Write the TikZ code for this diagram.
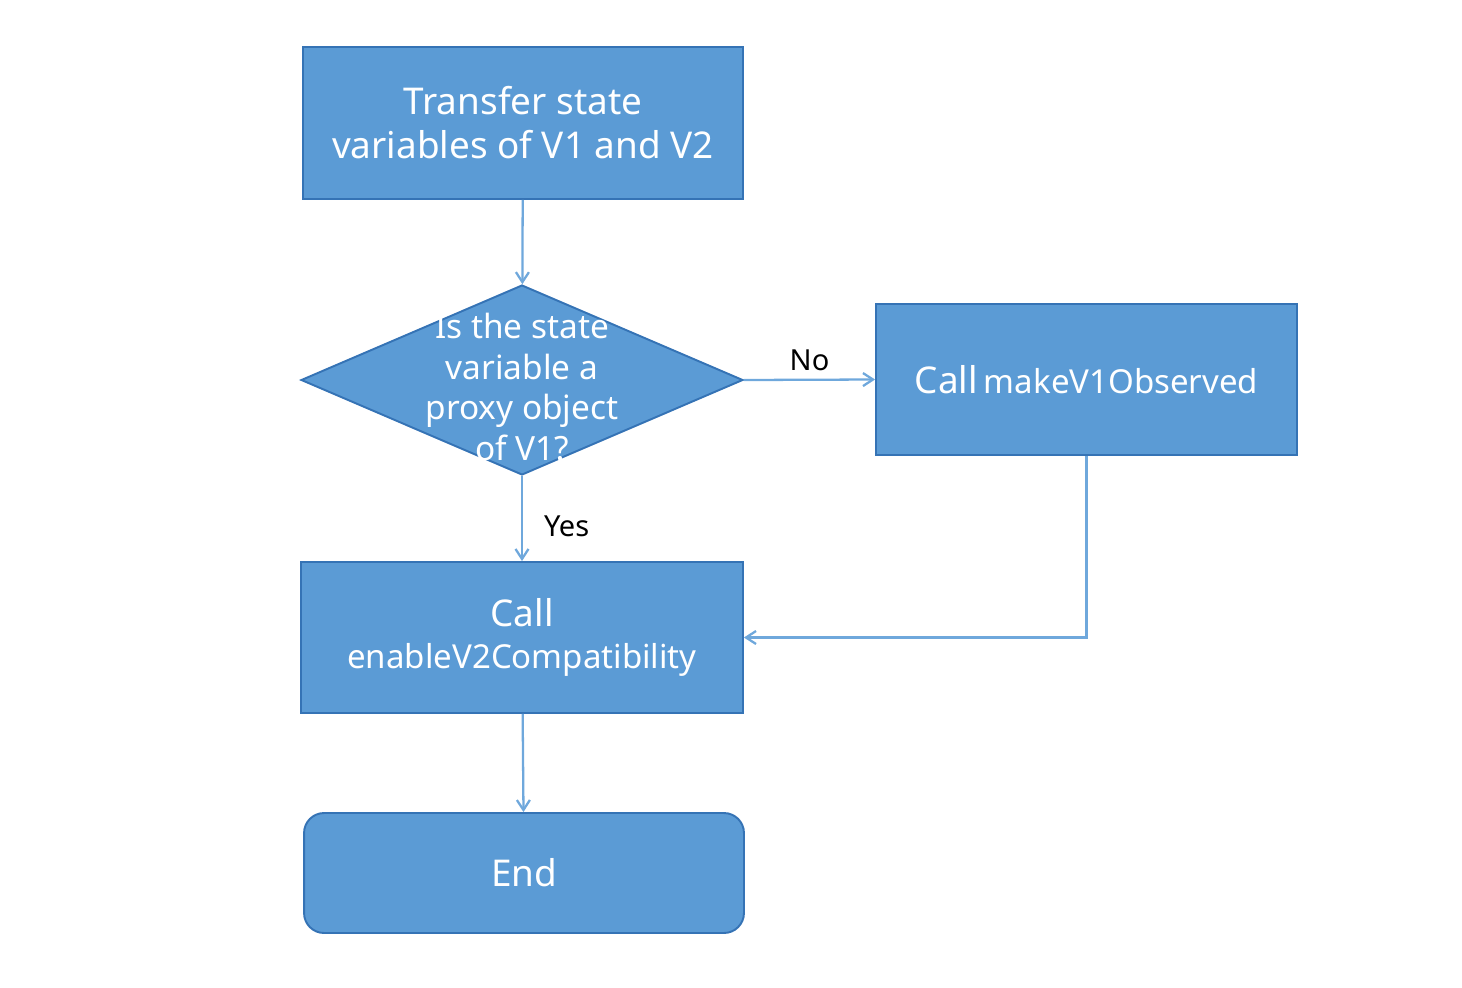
\documentclass[tikz,border=0pt]{standalone}
\usepackage{fontspec}
\setmainfont{Noto Sans}
\usetikzlibrary{arrows.meta,shapes.geometric}

\definecolor{boxfill}{HTML}{5B9BD5}
\definecolor{boxline}{HTML}{3573B5}
\definecolor{flowline}{HTML}{6FA8DC}

\tikzset{
    stepbox/.style={draw=boxline, line width=1.1pt, fill=boxfill, text=white, align=center,
        font=\fontsize{21}{25}\selectfont, inner sep=0pt},
    decision/.style={diamond, draw=boxline, line width=1.1pt, fill=boxfill, inner sep=0pt,
        minimum width=8.84cm, minimum height=3.8cm, aspect=2.33},
    flow/.style={draw=flowline, line width=1.3pt, -{Straight Barb[length=2mm,width=2.6mm]}},
    tag/.style={text=black, font=\fontsize{16.5}{19}\selectfont}
}

\begin{document}
\begin{tikzpicture}[x=0.02cm, y=-0.02cm]
    % page size
    \useasboundingbox (0,0) rectangle (1462,987);

    % boxes
    \node[stepbox, minimum width=8.8cm, minimum height=3.04cm] (transfer) at (523,123)
        {Transfer state\\variables of V1 and V2};
    \node[decision] (check) at (522,380) {};
    \node[text=white, align=center, font=\fontsize{19}{23}\selectfont] (checktext) at (522,387)
        {Is the state\\variable a\\proxy object\\of V1?};
    \node[stepbox, minimum width=8.42cm, minimum height=3.02cm] (makeobs) at (1086.5,379.5)
        {Call\,{\fontsize{18.8}{22}\selectfont makeV1Observed}};
    \node[stepbox, minimum width=8.84cm, minimum height=3.02cm] (enable) at (522,637.5)
        {Call\\[-1pt]{\fontsize{18.8}{22}\selectfont enableV2Compatibility}};
    \node[stepbox, rounded corners=0.4cm, minimum width=8.8cm, minimum height=2.4cm] (finish) at (524,873)
        {End};

    % connectors
    \draw[flow] (transfer) -- (check);
    \draw[flow] (check.east) -- (makeobs.west) node[tag, midway, above, yshift=1pt] {No};
    \draw[flow] (check.south) -- (enable.north) node[tag, midway, right, xshift=0.3cm, yshift=-0.16cm] {Yes};
    \draw[flow] (makeobs.south) |- (enable.east);
    \draw[flow] (enable) -- (finish);

\end{tikzpicture}
\end{document}
